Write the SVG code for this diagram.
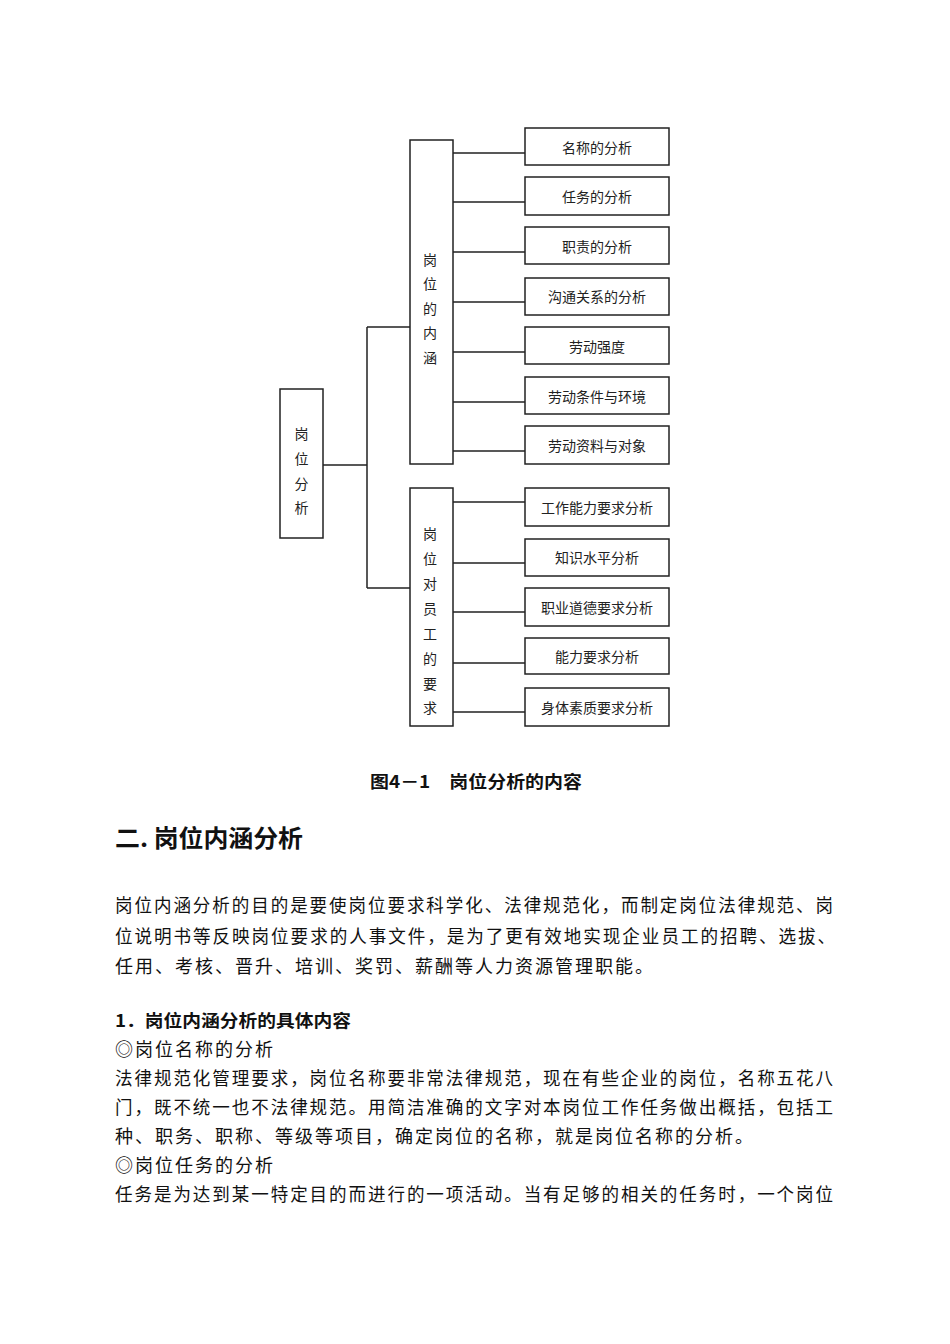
<svg xmlns="http://www.w3.org/2000/svg" width="950" height="1344" viewBox="0 0 950 1344">
<style>
.box{fill:#fff;stroke:#222;stroke-width:1.5}
.lbl{font-family:"Noto Sans CJK SC","Noto Sans",sans-serif;font-size:14px;fill:#222;text-anchor:middle;dominant-baseline:central}
.conn{fill:none;stroke:#222;stroke-width:1.5}
.body{font-family:"Noto Sans CJK SC",sans-serif;font-size:18px;fill:#111;letter-spacing:2px}
.bold{font-family:"Noto Sans CJK SC",sans-serif;font-weight:bold;fill:#111}
</style>
<rect width="950" height="1344" fill="#fff"/>
<g id="connectors">
<path class="conn" d="M323,465 H367 M367,327 V588 M367,327 H410 M367,588 H410"/>
<path class="conn" d="M453,153 H525 M453,202 H525 M453,252 H525 M453,302 H525 M453,352 H525 M453,402 H525 M453,451 H525"/>
<path class="conn" d="M453,502 H525 M453,563 H525 M453,612 H525 M453,663 H525 M453,712 H525"/>
</g>
<g id="root"><rect class="box" x="280" y="389" width="43" height="149"/>
<text class="lbl" x="301.5" y="433">岗</text><text class="lbl" x="301.5" y="458">位</text><text class="lbl" x="301.5" y="483">分</text><text class="lbl" x="301.5" y="507">析</text></g>
<g id="mid1"><rect class="box" x="410" y="140" width="43" height="324"/>
<text class="lbl" x="430" y="259">岗</text><text class="lbl" x="430" y="283">位</text><text class="lbl" x="430" y="308">的</text><text class="lbl" x="430" y="332">内</text><text class="lbl" x="430" y="357">涵</text></g>
<g id="mid2"><rect class="box" x="410" y="488" width="43" height="238"/>
<text class="lbl" x="430" y="533">岗</text><text class="lbl" x="430" y="558">位</text><text class="lbl" x="430" y="583">对</text><text class="lbl" x="430" y="608">员</text><text class="lbl" x="430" y="633">工</text><text class="lbl" x="430" y="658">的</text><text class="lbl" x="430" y="683">要</text><text class="lbl" x="430" y="707">求</text></g>
<g id="n1"><rect class="box" x="525" y="128" width="144" height="37"/><text class="lbl" x="597" y="147">名称的分析</text></g>
<g id="n2"><rect class="box" x="525" y="177" width="144" height="38"/><text class="lbl" x="597" y="196">任务的分析</text></g>
<g id="n3"><rect class="box" x="525" y="227" width="144" height="37"/><text class="lbl" x="597" y="246">职责的分析</text></g>
<g id="n4"><rect class="box" x="525" y="278" width="144" height="37"/><text class="lbl" x="597" y="296">沟通关系的分析</text></g>
<g id="n5"><rect class="box" x="525" y="327" width="144" height="37"/><text class="lbl" x="597" y="346">劳动强度</text></g>
<g id="n6"><rect class="box" x="525" y="377" width="144" height="37"/><text class="lbl" x="597" y="396">劳动条件与环境</text></g>
<g id="n7"><rect class="box" x="525" y="426" width="144" height="38"/><text class="lbl" x="597" y="445">劳动资料与对象</text></g>
<g id="n8"><rect class="box" x="525" y="488" width="144" height="38"/><text class="lbl" x="597" y="507">工作能力要求分析</text></g>
<g id="n9"><rect class="box" x="525" y="539" width="144" height="37"/><text class="lbl" x="597" y="557">知识水平分析</text></g>
<g id="n10"><rect class="box" x="525" y="588" width="144" height="38"/><text class="lbl" x="597" y="607">职业道德要求分析</text></g>
<g id="n11"><rect class="box" x="525" y="638" width="144" height="36"/><text class="lbl" x="597" y="656">能力要求分析</text></g>
<g id="n12"><rect class="box" x="525" y="688" width="144" height="38"/><text class="lbl" x="597" y="707">身体素质要求分析</text></g>
<text class="bold" x="370" y="788" font-size="17" textLength="212" lengthAdjust="spacingAndGlyphs">图4－1　岗位分析的内容</text>
<text class="bold" x="115" y="847" font-size="24" textLength="188" lengthAdjust="spacingAndGlyphs">二. 岗位内涵分析</text>
<text class="body" x="115" y="912" textLength="720" lengthAdjust="spacingAndGlyphs">岗位内涵分析的目的是要使岗位要求科学化、法律规范化，而制定岗位法律规范、岗</text>
<text class="body" x="115" y="943" textLength="722" lengthAdjust="spacingAndGlyphs">位说明书等反映岗位要求的人事文件，是为了更有效地实现企业员工的招聘、选拔、</text>
<text class="body" x="115" y="973">任用、考核、晋升、培训、奖罚、薪酬等人力资源管理职能。</text>
<text class="bold" x="115" y="1027" font-size="17" textLength="236" lengthAdjust="spacingAndGlyphs">1．岗位内涵分析的具体内容</text>
<text class="body" x="115" y="1056">◎岗位名称的分析</text>
<text class="body" x="115" y="1085" textLength="720" lengthAdjust="spacingAndGlyphs">法律规范化管理要求，岗位名称要非常法律规范，现在有些企业的岗位，名称五花八</text>
<text class="body" x="115" y="1114" textLength="720" lengthAdjust="spacingAndGlyphs">门，既不统一也不法律规范。用简洁准确的文字对本岗位工作任务做出概括，包括工</text>
<text class="body" x="115" y="1143">种、职务、职称、等级等项目，确定岗位的名称，就是岗位名称的分析。</text>
<text class="body" x="115" y="1172">◎岗位任务的分析</text>
<text class="body" x="115" y="1201" textLength="720" lengthAdjust="spacingAndGlyphs">任务是为达到某一特定目的而进行的一项活动。当有足够的相关的任务时，一个岗位</text>
</svg>
